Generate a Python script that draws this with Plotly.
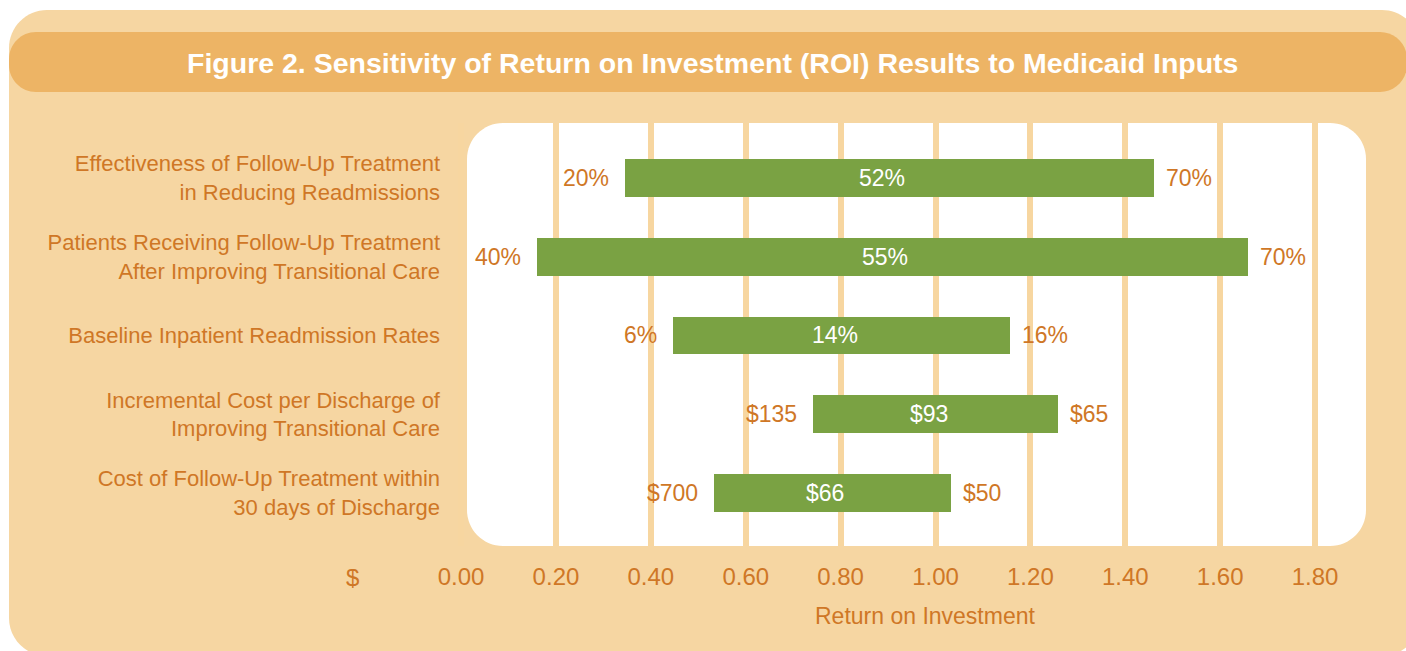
import plotly.graph_objects as go

# ---- data -------------------------------------------------------------
categories = [
    "Effectiveness of Follow-Up Treatment<br>in Reducing Readmissions",
    "Patients Receiving Follow-Up Treatment<br>After Improving Transitional Care",
    "Baseline Inpatient Readmission Rates",
    "Incremental Cost per Discharge of<br>Improving Transitional Care",
    "Cost of Follow-Up Treatment within<br>30 days of Discharge",
]
roi_low = [0.345, 0.160, 0.447, 0.742, 0.533]
roi_high = [1.460, 1.658, 1.157, 1.258, 1.032]
low_input = ["20%", "40%", "6%", "$135", "$700"]
base_input = ["52%", "55%", "14%", "$93", "$66"]
high_input = ["70%", "70%", "16%", "$65", "$50"]
tick_values = [0.0, 0.2, 0.4, 0.6, 0.8, 1.0, 1.2, 1.4, 1.6, 1.8]
tick_labels = ["0.00", "0.20", "0.40", "0.60", "0.80", "1.00", "1.20", "1.40", "1.60", "1.80"]

# ---- styling ----------------------------------------------------------
W, H = 1406, 651
PLOT_TOP, PLOT_BOTTOM = 123, 546
PANEL = "#F6D6A2"
BANNER = "#EDB465"
GRID = "#F7D6A0"
GREEN = "#7AA243"
ORANGE = "#CF7726"
FONT = "Liberation Sans Narrow, Arial Narrow, Liberation Sans, sans-serif"
X0_PX, PX_PER_UNIT = 461.1, 474.4


def px_x(px):
    return px / W


def px_y(py):
    return (PLOT_BOTTOM - py) / (PLOT_BOTTOM - PLOT_TOP)


def rounded_rect(x0, y0, x1, y1, r):
    """SVG path (paper coords) for a rounded rectangle given in pixels."""
    k = 0.5523 * r
    pts = []
    pts.append(f"M{px_x(x0 + r)},{px_y(y0)}")
    pts.append(f"L{px_x(x1 - r)},{px_y(y0)}")
    pts.append(f"C{px_x(x1 - r + k)},{px_y(y0)} {px_x(x1)},{px_y(y0 + r - k)} {px_x(x1)},{px_y(y0 + r)}")
    pts.append(f"L{px_x(x1)},{px_y(y1 - r)}")
    pts.append(f"C{px_x(x1)},{px_y(y1 - r + k)} {px_x(x1 - r + k)},{px_y(y1)} {px_x(x1 - r)},{px_y(y1)}")
    pts.append(f"L{px_x(x0 + r)},{px_y(y1)}")
    pts.append(f"C{px_x(x0 + r - k)},{px_y(y1)} {px_x(x0)},{px_y(y1 - r + k)} {px_x(x0)},{px_y(y1 - r)}")
    pts.append(f"L{px_x(x0)},{px_y(y0 + r)}")
    pts.append(f"C{px_x(x0)},{px_y(y0 + r - k)} {px_x(x0 + r - k)},{px_y(y0)} {px_x(x0 + r)},{px_y(y0)}")
    pts.append("Z")
    return " ".join(pts)


fig = go.Figure()

fig.add_trace(go.Bar(
    orientation="h",
    y=categories,
    base=roi_low,
    x=[h - l for l, h in zip(roi_low, roi_high)],
    width=0.479,
    marker=dict(color=GREEN, line=dict(width=0)),
    hoverinfo="skip",
))

shapes = [
    dict(type="path", xref="paper", yref="paper", layer="below",
         path=rounded_rect(9, 10, 1420, 656, 38), fillcolor=PANEL, line=dict(width=0)),
    dict(type="path", xref="paper", yref="paper", layer="below",
         path=rounded_rect(9, 32, 1407, 92, 27), fillcolor=BANNER, line=dict(width=0)),
    dict(type="path", xref="paper", yref="paper", layer="below",
         path=rounded_rect(467, 123, 1366, 546, 36), fillcolor="white", line=dict(width=0)),
]

annotations = [
    dict(text="<b>Figure 2. Sensitivity of Return on Investment (ROI) Results to Medicaid Inputs</b>",
         xref="paper", yref="paper", x=px_x(712), y=px_y(63), showarrow=False,
         xanchor="center", yanchor="middle", font=dict(family=FONT, size=28.5, color="white")),
    dict(text="Return on Investment", xref="paper", yref="paper", x=px_x(925), y=px_y(616),
         showarrow=False, xanchor="center", yanchor="middle",
         font=dict(family=FONT, size=23, color=ORANGE)),
    dict(text="$", xref="paper", yref="paper", x=px_x(352), y=px_y(577),
         showarrow=False, xanchor="center", yanchor="middle",
         font=dict(family=FONT, size=24, color=ORANGE)),
]

for cat, lo, hi, t_lo, t_base, t_hi in zip(categories, roi_low, roi_high,
                                           low_input, base_input, high_input):
    annotations.append(dict(text=t_lo, x=lo, y=cat, xref="x", yref="y", showarrow=False,
                            xanchor="right", yanchor="middle", xshift=-14,
                            font=dict(family=FONT, size=23, color=ORANGE)))
    annotations.append(dict(text=t_hi, x=hi, y=cat, xref="x", yref="y", showarrow=False,
                            xanchor="left", yanchor="middle", xshift=10,
                            font=dict(family=FONT, size=23, color=ORANGE)))
    annotations.append(dict(text=t_base, x=(lo + hi) / 2, y=cat, xref="x", yref="y",
                            showarrow=False, xanchor="center", yanchor="middle", xshift=-7,
                            font=dict(family=FONT, size=23, color="white")))

x_min = (0 - X0_PX) / PX_PER_UNIT
x_max = (W - X0_PX) / PX_PER_UNIT
bar_pitch = 78.75
first_center = 177.9
y_top = (PLOT_TOP - first_center) / bar_pitch
y_bottom = (PLOT_BOTTOM - first_center) / bar_pitch

fig.update_layout(
    width=W, height=H, autosize=False,
    margin=dict(l=0, r=0, t=PLOT_TOP, b=H - PLOT_BOTTOM, pad=0),
    paper_bgcolor="white",
    plot_bgcolor="rgba(0,0,0,0)",
    showlegend=False,
    shapes=shapes,
    annotations=annotations,
    bargap=0,
    xaxis=dict(
        range=[x_min, x_max], domain=[0, 1],
        tickvals=tick_values, ticktext=tick_labels,
        showgrid=True, gridcolor=GRID, gridwidth=5.5,
        zeroline=False, showline=False, ticks="",
        ticklabelstandoff=14,
        tickfont=dict(family=FONT, size=24, color=ORANGE),
        fixedrange=True,
    ),
    yaxis=dict(
        type="category", categoryorder="array", categoryarray=categories,
        range=[y_bottom, y_top],
        anchor="free", position=px_x(440),
        showgrid=False, zeroline=False, showline=False, ticks="",
        ticklabelstandoff=0,
        tickfont=dict(family=FONT, size=22, color=ORANGE),
        fixedrange=True,
    ),
)

fig.write_html("out.html", config=dict(displayModeBar=False))
